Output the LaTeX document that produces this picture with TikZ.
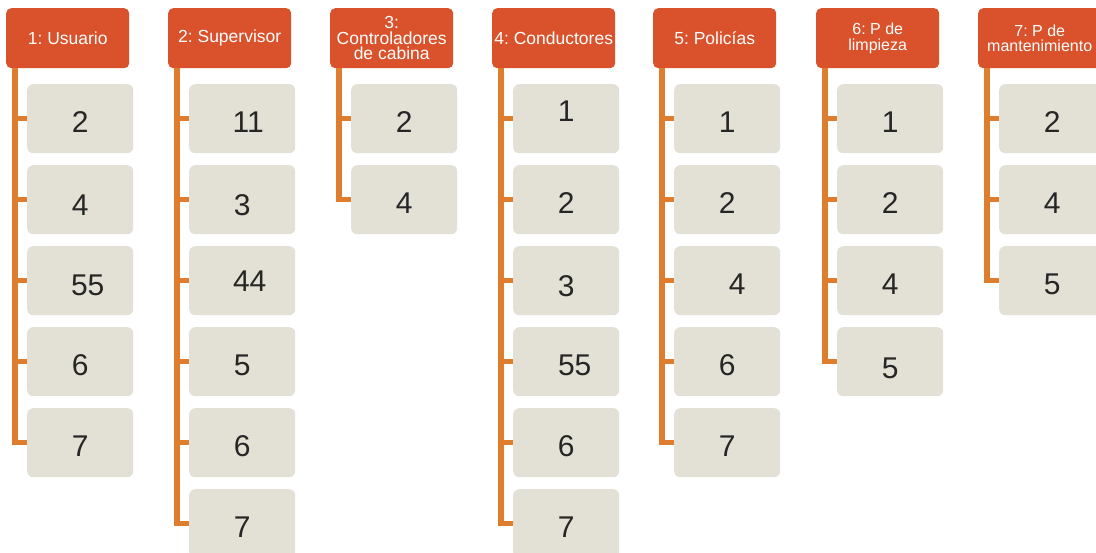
\documentclass[tikz,border=0pt]{standalone}
\usepackage{fontspec}
\setmainfont{Liberation Sans}
\frenchspacing

\definecolor{hdrfill}{HTML}{D9522C}
\definecolor{spinecol}{HTML}{DE7D2E}
\definecolor{leaffill}{HTML}{E3E1D5}
\definecolor{leaftext}{HTML}{262626}

% #1 = twice the rightward shift, #2 = lift of the number (pt)
\newcommand\numat[3]{\hspace*{#1pt}\raisebox{#2pt}{#3}}

\tikzset{
  hdr/.style={anchor=north west, fill=hdrfill, rounded corners=5pt,
    minimum width=123pt, minimum height=60pt, inner sep=0pt,
    align=center, text=white, font=\fontsize{17.5}{15.5}\selectfont},
  hdrsmall/.style={hdr, font=\fontsize{16}{15.5}\selectfont},
  leaf/.style={anchor=north west, fill=leaffill, rounded corners=6pt,
    minimum width=106pt, minimum height=69pt, inner sep=0pt,
    text=leaftext, font=\fontsize{30}{30}\selectfont,
    text height=27.5pt, text depth=0pt},
  spine/.style={draw=spinecol, line width=5.5pt},
}

% one column: index, left edge, header style, header text, list of entries
\newcommand\drawcol[5]{%
  \node[#3] (h#1) at (#2,8) {#4};
  \coordinate (s#1) at ([xshift=9pt]h#1.south west);
  \foreach \t [count=\k] in {#5} {
    \node[leaf] (c#1-\k) at (#2+21, 3+81*\k) {\t};
    \draw[spine] (s#1) |- (c#1-\k.west);
  }
}

\begin{document}
\begin{tikzpicture}[x=1pt, y=-1pt]
  \useasboundingbox (0,0) rectangle (1096,553);
  \fill[white] (0,0) rectangle (1096,553);
  \clip (0,0) rectangle (1096,553);

  \drawcol{1}{6}{hdr}{1: Usuario}
    {2, \numat{0}{-2.5}{4}, \numat{15}{-1.5}{55}, 6, 7}
  \drawcol{2}{168}{hdr}{2: Supervisor}
    {\numat{12}{0}{11}, \numat{0}{-2.5}{3}, \numat{15}{2.5}{44}, 5, 6, 7}
  \drawcol{3}{330}{hdr}{3:\\Controladores\\de cabina}
    {2, 4}
  \drawcol{4}{492}{hdr}{4: Conductores}
    {\numat{0}{11}{1}, 2, \numat{0}{-2.5}{3}, \numat{17}{0}{55}, 6, 7}
  \drawcol{5}{653}{hdr}{5: Policías}
    {1, 2, \numat{20}{0}{4}, 6, 7}
  \drawcol{6}{816}{hdrsmall}{6: P de\\limpieza}
    {1, 2, 4, \numat{0}{-3}{5}}
  \drawcol{7}{978}{hdrsmall}{7: P de\\mantenimiento}
    {2, 4, 5}
\end{tikzpicture}
\end{document}
